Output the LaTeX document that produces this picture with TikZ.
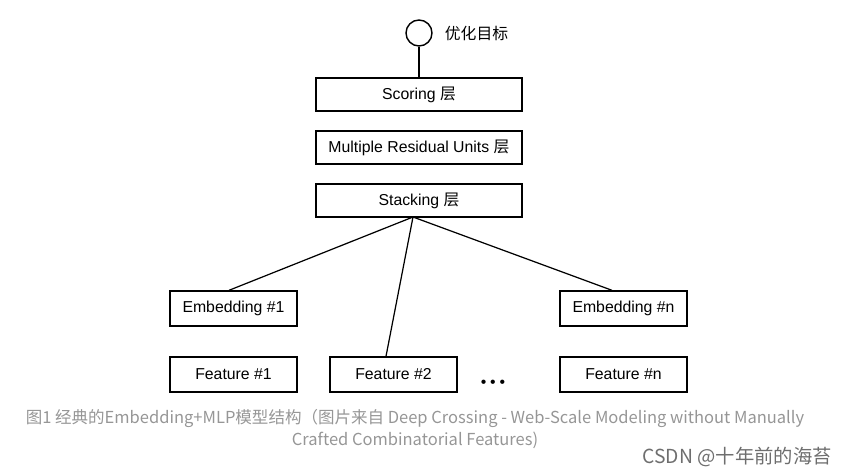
\documentclass[tikz,border=0pt]{standalone}
\usepackage{fontspec}
\setmainfont{Liberation Sans}
\newfontfamily\cjk{Noto Sans CJK SC}
\usetikzlibrary{positioning}
\definecolor{CapGray}{RGB}{150,150,150}
\definecolor{MarkGray}{RGB}{110,110,110}
\newcommand{\ceng}{{\cjk 层}}

\begin{document}
\begin{tikzpicture}[x=0.02cm,y=-0.02cm,
    widebox/.style={draw,line width=0.8pt,minimum width=4.12cm,minimum height=0.66cm,inner sep=0pt,font=\fontsize{9}{11}\selectfont},
    smallbox/.style={draw,line width=0.8pt,minimum width=2.54cm,minimum height=0.70cm,inner sep=0pt,font=\fontsize{9}{11}\selectfont},
    caption/.style={CapGray,font=\cjk\fontsize{9.4}{11}\selectfont}]
  \useasboundingbox (0,0) rectangle (852,474);
  % objective
  \node[draw,circle,line width=0.8pt,minimum size=0.52cm,inner sep=0pt] (goal) at (419,33) {};
  \node[right=0.12cm of goal,font=\cjk\fontsize{9}{11}\selectfont] (goaltxt) {优化目标};
  % layers
  \node[widebox] (scoring) at (419,94.5) {Scoring \ceng};
  \node[widebox] (mru) at (419,147.5) {Multiple Residual Units \ceng};
  \node[widebox] (stacking) at (419,200.5) {Stacking \ceng};
  \node[smallbox] (emb1) at (233.5,308.5) {Embedding \#1};
  \node[smallbox] (embn) at (623.5,308.5) {Embedding \#n};
  \node[smallbox] (feat1) at (233.5,374.5) {Feature \#1};
  \node[smallbox] (feat2) at (393.5,374.5) {Feature \#2};
  \node[smallbox] (featn) at (623.5,374.5) {Feature \#n};
  \node[font=\fontsize{9}{9}\selectfont,inner sep=0pt] (dots) at (493,384) {•\kern2.2pt•\kern2.2pt•};
  % connectors
  \coordinate (hub) at (413,217);
  \draw[line width=0.7pt] (goal) -- (scoring);
  \draw[line width=0.7pt] (hub) -- (emb1.north -| 229,0);
  \draw[line width=0.7pt] (hub) -- (feat2.north -| 386,0);
  \draw[line width=0.7pt] (hub) -- (embn.north -| 612,0);
  % caption
  \node[caption] (cap1) at (415,418) {图1 经典的Embedding+MLP模型结构（图片来自 Deep Crossing - Web-Scale Modeling without Manually};
  \node[caption] (cap2) at (415,440) {Crafted Combinatorial Features)};
  \node[MarkGray,anchor=east,font=\cjk\fontsize{11}{13}\selectfont] (mark) at (838,457) {CSDN @十年前的海苔};
\end{tikzpicture}
\end{document}
